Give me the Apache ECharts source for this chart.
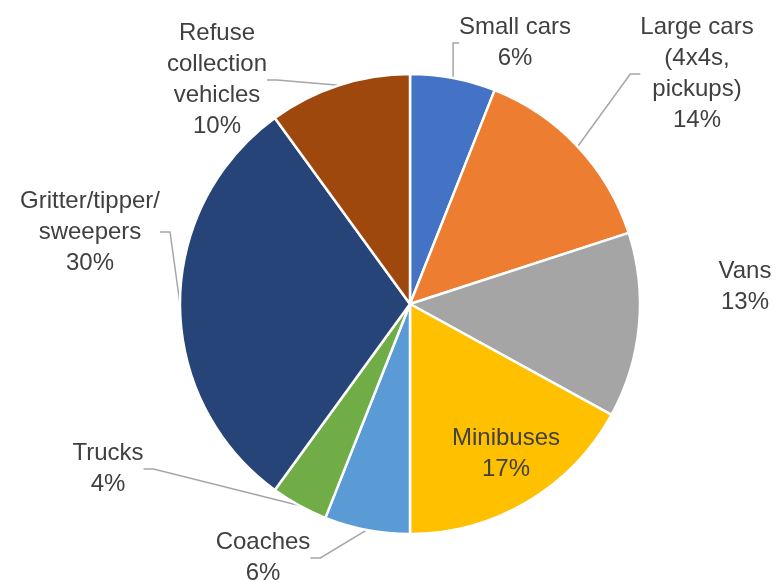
<!DOCTYPE html>
<html>
<head>
<meta charset="utf-8">
<script src="https://cdn.jsdelivr.net/npm/echarts@6/dist/echarts.min.js"></script>
<style>
  html, body { margin: 0; padding: 0; background: #fff; }
  #main { width: 776px; height: 580px; }
</style>
</head>
<body>
<div id="main"></div>
<script>
  // vehicle types, clockwise from 12 o'clock
  var categories = ['Small cars', 'Large cars\n(4x4s,\npickups)', 'Vans', 'Minibuses',
                    'Coaches', 'Trucks', 'Gritter/tipper/\nsweepers', 'Refuse\ncollection\nvehicles'];
  var shares = [6, 14, 13, 17, 6, 4, 30, 10];
  var colors = ['#4472C4', '#ED7D31', '#A5A5A5', '#FFC000', '#5B9BD5', '#70AD47', '#264478', '#9E480E'];

  // where each label block sits (centre of the text)
  var labelPos = [[515, 43], [697, 74], [745, 287], [506, 454], [263, 558], [108, 469], [90, 232], [217, 80]];

  var chart = echarts.init(document.getElementById('main'));

  var data = categories.map(function (name, i) {
    var item = { name: name, value: shares[i], itemStyle: { color: colors[i] } };
    if (i === 2) item.labelLine = { show: false };
    if (i === 3) { item.label = { position: 'inside' }; }
    return item;
  });

  var option = {
    animation: false,
    series: [{
      type: 'pie',
      center: [410, 304],
      radius: 230,
      startAngle: 90,
      clockwise: true,
      avoidLabelOverlap: false,
      itemStyle: { borderColor: '#fff', borderWidth: 2.5 },
      label: {
        show: true,
        position: 'outside',
        formatter: '{b}\n{c}%',
        fontFamily: 'Liberation Sans, Arial, sans-serif',
        fontSize: 24,
        lineHeight: 31,
        color: '#404040',
        align: 'center'
      },
      labelLine: {
        show: true,
        length: 10,
        length2: 10,
        lineStyle: { color: '#A6A6A6', width: 1.5 }
      },
      labelLayout: function (params) {
        var p = labelPos[params.dataIndex];
        return { x: p[0], y: p[1], align: 'center', verticalAlign: 'middle' };
      },
      data: data
    }]
  };

  chart.setOption(option);
</script>
</body>
</html>
